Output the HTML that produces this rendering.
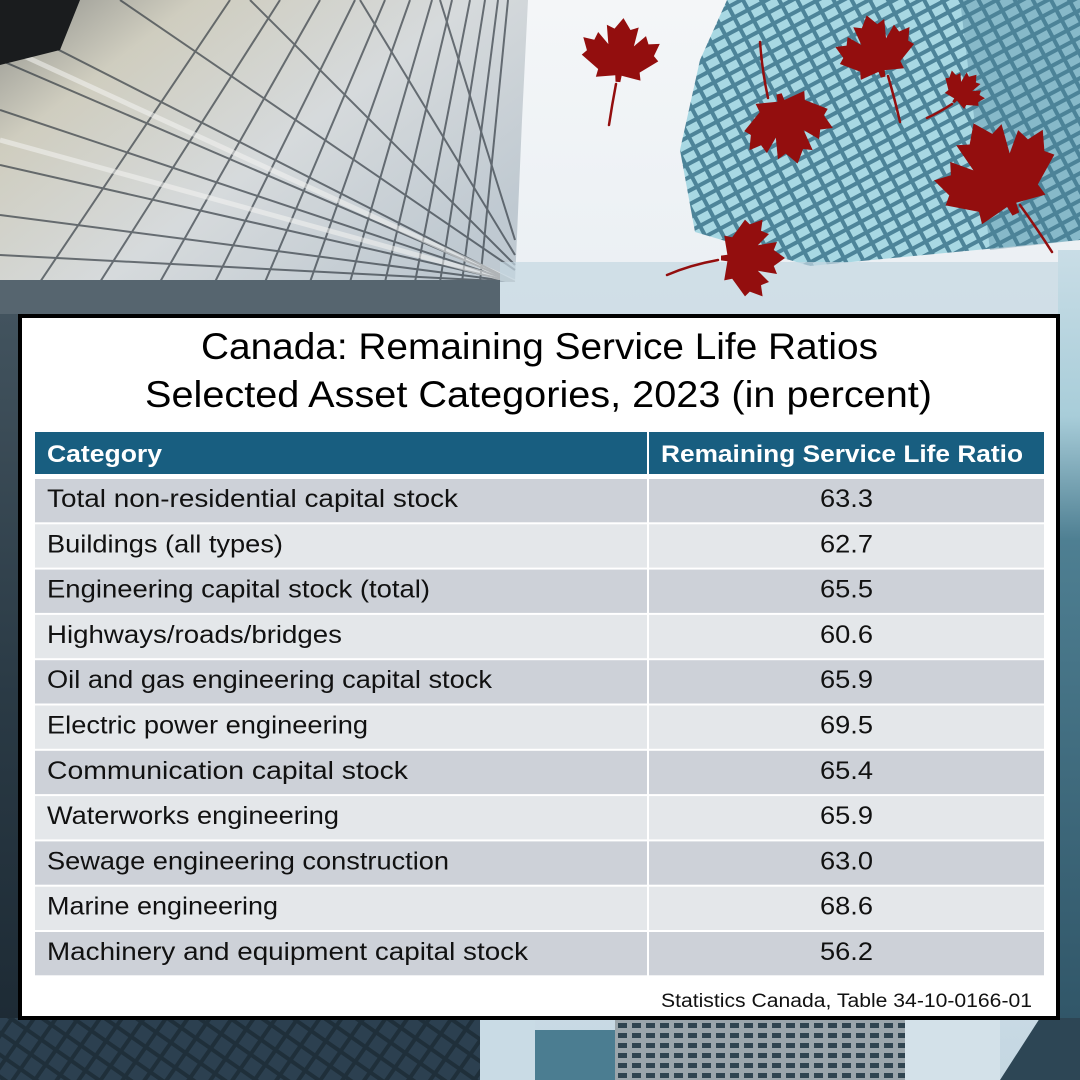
<!DOCTYPE html>
<html>
<head>
<meta charset="utf-8">
<style>
html,body{margin:0;padding:0;background:#fff;}
svg{display:block;}
text{font-family:"Liberation Sans",sans-serif;}
</style>
</head>
<body>
<svg width="1080" height="1080" viewBox="0 0 1080 1080" xmlns="http://www.w3.org/2000/svg">
<defs>
  <linearGradient id="sky" x1="0" y1="0" x2="0" y2="1">
    <stop offset="0" stop-color="#f4f6f8"/>
    <stop offset="0.6" stop-color="#dfe8ee"/>
    <stop offset="1" stop-color="#c4d7e2"/>
  </linearGradient>
  <linearGradient id="lb" x1="0" y1="0" x2="1" y2="0.7">
    <stop offset="0" stop-color="#8e8f8a"/>
    <stop offset="0.25" stop-color="#cfcdbf"/>
    <stop offset="0.6" stop-color="#d6dadc"/>
    <stop offset="1" stop-color="#bfc9d1"/>
  </linearGradient>
  <linearGradient id="lstrip" x1="0" y1="0" x2="0" y2="1">
    <stop offset="0" stop-color="#42535e"/>
    <stop offset="0.5" stop-color="#2a3a45"/>
    <stop offset="1" stop-color="#1b2832"/>
  </linearGradient>
  <linearGradient id="rstrip" x1="0" y1="0" x2="0" y2="1">
    <stop offset="0" stop-color="#c9dde6"/>
    <stop offset="0.2" stop-color="#a8cdd9"/>
    <stop offset="0.35" stop-color="#4e7f92"/>
    <stop offset="1" stop-color="#2d5163"/>
  </linearGradient>
  <pattern id="win" width="16" height="12" patternUnits="userSpaceOnUse" patternTransform="rotate(-28)">
    <rect width="16" height="12" fill="#4d8499"/>
    <rect x="2" y="2" width="12" height="8" fill="#a8d8e3"/>
  </pattern>
  <pattern id="win2" width="14" height="10" patternUnits="userSpaceOnUse">
    <rect width="14" height="10" fill="#9aa5ab"/>
    <rect x="2" y="3" width="9" height="5" fill="#2f4450"/>
  </pattern>
  <pattern id="dgrid" width="18" height="18" patternUnits="userSpaceOnUse" patternTransform="rotate(35)">
    <rect width="18" height="18" fill="#1f2f3a"/>
    <rect x="2" y="2" width="14" height="14" fill="#2c4050"/>
  </pattern>
  <clipPath id="lbclip">
    <polygon points="0,0 528,0 522,120 515,282 0,282"/>
  </clipPath>
  <path id="leaf" d="M0,-50 L10,-36 L20,-40 L16,-16 L30,-30 L34,-20 L48,-22 L42,-6 L48,0 L26,16 L28,26 L4,22 L3,30 L-3,30 L-4,22 L-28,26 L-26,16 L-48,0 L-42,-6 L-48,-22 L-34,-20 L-30,-30 L-16,-16 L-20,-40 L-10,-36 Z"/>
</defs>

<rect width="1080" height="1080" fill="url(#sky)"/>

<polygon points="0,0 528,0 522,120 515,282 0,282" fill="url(#lb)"/>
<g clip-path="url(#lbclip)" stroke="#2b333b" stroke-width="2" opacity="0.65" fill="none">
  <line x1="0" y1="20" x2="515" y2="282"/>
  <line x1="0" y1="60" x2="515" y2="282"/>
  <line x1="0" y1="110" x2="515" y2="282"/>
  <line x1="0" y1="165" x2="515" y2="282"/>
  <line x1="0" y1="215" x2="515" y2="282"/>
  <line x1="0" y1="255" x2="515" y2="282"/>
  <line x1="120" y1="0" x2="515" y2="270"/>
  <line x1="250" y1="0" x2="515" y2="265"/>
  <line x1="360" y1="0" x2="515" y2="255"/>
  <line x1="440" y1="0" x2="515" y2="240"/>
  <line x1="40" y1="282" x2="230" y2="0"/>
  <line x1="100" y1="282" x2="280" y2="0"/>
  <line x1="160" y1="282" x2="320" y2="0"/>
  <line x1="215" y1="282" x2="355" y2="0"/>
  <line x1="265" y1="282" x2="385" y2="0"/>
  <line x1="310" y1="282" x2="410" y2="0"/>
  <line x1="350" y1="282" x2="432" y2="0"/>
  <line x1="385" y1="282" x2="452" y2="0"/>
  <line x1="415" y1="282" x2="470" y2="0"/>
  <line x1="440" y1="282" x2="485" y2="0"/>
  <line x1="462" y1="282" x2="498" y2="0"/>
  <line x1="480" y1="282" x2="508" y2="0"/>
</g>
<g clip-path="url(#lbclip)" stroke="#f4f4f2" stroke-width="5" opacity="0.55" fill="none">
  <line x1="0" y1="140" x2="515" y2="282"/>
  <line x1="0" y1="45" x2="515" y2="282"/>
</g>
<polygon points="0,0 80,0 60,50 0,65" fill="#1a1c1e"/>
<rect x="0" y="280" width="500" height="36" fill="#56656f"/>

<polygon points="727,0 1080,0 1080,240 810,266 695,232 680,150 700,60" fill="url(#win)"/>
<polygon points="960,0 1080,0 1080,240 990,250" fill="#4a8297" opacity="0.35"/>

<rect x="500" y="262" width="580" height="54" fill="#c5d7e1" opacity="0.7"/>

<rect x="0" y="314" width="20" height="766" fill="url(#lstrip)"/>
<rect x="1058" y="250" width="22" height="830" fill="url(#rstrip)"/>

<rect x="0" y="1018" width="480" height="62" fill="url(#dgrid)"/>
<rect x="480" y="1018" width="55" height="62" fill="#c9dbe5"/>
<rect x="535" y="1030" width="80" height="50" fill="#4b7d91"/>
<rect x="615" y="1018" width="290" height="62" fill="url(#win2)"/>
<rect x="905" y="1018" width="95" height="62" fill="#d3e1e9"/>
<polygon points="1000,1080 1040,1018 1080,1018 1080,1080" fill="#2d4655"/>

<g fill="#930e0e">
  <use href="#leaf" transform="translate(620,58) rotate(5) scale(0.8)"/>
  <use href="#leaf" transform="translate(786,120) rotate(165) scale(0.9)"/>
  <use href="#leaf" transform="translate(877,54) rotate(-15) scale(0.8)"/>
  <use href="#leaf" transform="translate(962,92) rotate(40) scale(0.45)"/>
  <use href="#leaf" transform="translate(1000,180) rotate(-25) scale(1.25)"/>
  <use href="#leaf" transform="translate(745,258) rotate(90) scale(0.8)"/>
</g>
<g stroke="#930e0e" stroke-width="2.5" fill="none" stroke-linecap="round">
  <path d="M616,84 Q612,105 609,125"/>
  <path d="M768,98 Q762,70 760,42"/>
  <path d="M888,76 Q895,100 900,122"/>
  <path d="M952,104 Q940,112 927,118"/>
  <path d="M1020,205 Q1038,230 1052,252"/>
  <path d="M718,260 Q690,265 667,275"/>
</g>

<rect x="20" y="316" width="1038" height="702" fill="#ffffff" stroke="#000000" stroke-width="4"/>

<text x="201" y="359" font-size="37" fill="#000" textLength="677" lengthAdjust="spacingAndGlyphs">Canada: Remaining Service Life Ratios</text>
<text x="145" y="407" font-size="37" fill="#000" textLength="787" lengthAdjust="spacingAndGlyphs">Selected Asset Categories, 2023 (in percent)</text>

<rect x="35" y="432" width="612" height="42" fill="#185e80"/>
<rect x="649" y="432" width="395" height="42" fill="#185e80"/>
<text x="47" y="462" font-size="24" font-weight="bold" fill="#ffffff" textLength="115" lengthAdjust="spacingAndGlyphs">Category</text>
<text x="661" y="462" font-size="24" font-weight="bold" fill="#ffffff" textLength="362" lengthAdjust="spacingAndGlyphs">Remaining Service Life Ratio</text>

<g>
  <rect x="35" y="479" width="612" height="43.3" fill="#cdd1d8"/><rect x="649" y="479" width="395" height="43.3" fill="#cdd1d8"/>
  <rect x="35" y="524.3" width="612" height="43.3" fill="#e4e7ea"/><rect x="649" y="524.3" width="395" height="43.3" fill="#e4e7ea"/>
  <rect x="35" y="569.6" width="612" height="43.3" fill="#cdd1d8"/><rect x="649" y="569.6" width="395" height="43.3" fill="#cdd1d8"/>
  <rect x="35" y="614.9" width="612" height="43.3" fill="#e4e7ea"/><rect x="649" y="614.9" width="395" height="43.3" fill="#e4e7ea"/>
  <rect x="35" y="660.2" width="612" height="43.3" fill="#cdd1d8"/><rect x="649" y="660.2" width="395" height="43.3" fill="#cdd1d8"/>
  <rect x="35" y="705.5" width="612" height="43.3" fill="#e4e7ea"/><rect x="649" y="705.5" width="395" height="43.3" fill="#e4e7ea"/>
  <rect x="35" y="750.8" width="612" height="43.3" fill="#cdd1d8"/><rect x="649" y="750.8" width="395" height="43.3" fill="#cdd1d8"/>
  <rect x="35" y="796.1" width="612" height="43.3" fill="#e4e7ea"/><rect x="649" y="796.1" width="395" height="43.3" fill="#e4e7ea"/>
  <rect x="35" y="841.4" width="612" height="43.3" fill="#cdd1d8"/><rect x="649" y="841.4" width="395" height="43.3" fill="#cdd1d8"/>
  <rect x="35" y="886.7" width="612" height="43.3" fill="#e4e7ea"/><rect x="649" y="886.7" width="395" height="43.3" fill="#e4e7ea"/>
  <rect x="35" y="932" width="612" height="43.3" fill="#cdd1d8"/><rect x="649" y="932" width="395" height="43.3" fill="#cdd1d8"/>
</g>

<g font-size="25" fill="#111">
  <text x="47" y="507" textLength="411" lengthAdjust="spacingAndGlyphs">Total non-residential capital stock</text>
  <text x="47" y="552.3" textLength="236" lengthAdjust="spacingAndGlyphs">Buildings (all types)</text>
  <text x="47" y="597.6" textLength="383" lengthAdjust="spacingAndGlyphs">Engineering capital stock (total)</text>
  <text x="47" y="642.9" textLength="295" lengthAdjust="spacingAndGlyphs">Highways/roads/bridges</text>
  <text x="47" y="688.2" textLength="445" lengthAdjust="spacingAndGlyphs">Oil and gas engineering capital stock</text>
  <text x="47" y="733.5" textLength="321" lengthAdjust="spacingAndGlyphs">Electric power engineering</text>
  <text x="47" y="778.8" textLength="361" lengthAdjust="spacingAndGlyphs">Communication capital stock</text>
  <text x="47" y="824.1" textLength="292" lengthAdjust="spacingAndGlyphs">Waterworks engineering</text>
  <text x="47" y="869.4" textLength="402" lengthAdjust="spacingAndGlyphs">Sewage engineering construction</text>
  <text x="47" y="914.7" textLength="231" lengthAdjust="spacingAndGlyphs">Marine engineering</text>
  <text x="47" y="960" textLength="481" lengthAdjust="spacingAndGlyphs">Machinery and equipment capital stock</text>
</g>
<g font-size="25" fill="#111">
  <text x="820" y="507" textLength="53" lengthAdjust="spacingAndGlyphs">63.3</text>
  <text x="820" y="552.3" textLength="53" lengthAdjust="spacingAndGlyphs">62.7</text>
  <text x="820" y="597.6" textLength="53" lengthAdjust="spacingAndGlyphs">65.5</text>
  <text x="820" y="642.9" textLength="53" lengthAdjust="spacingAndGlyphs">60.6</text>
  <text x="820" y="688.2" textLength="53" lengthAdjust="spacingAndGlyphs">65.9</text>
  <text x="820" y="733.5" textLength="53" lengthAdjust="spacingAndGlyphs">69.5</text>
  <text x="820" y="778.8" textLength="53" lengthAdjust="spacingAndGlyphs">65.4</text>
  <text x="820" y="824.1" textLength="53" lengthAdjust="spacingAndGlyphs">65.9</text>
  <text x="820" y="869.4" textLength="53" lengthAdjust="spacingAndGlyphs">63.0</text>
  <text x="820" y="914.7" textLength="53" lengthAdjust="spacingAndGlyphs">68.6</text>
  <text x="820" y="960" textLength="53" lengthAdjust="spacingAndGlyphs">56.2</text>
</g>

<text x="661" y="1007" font-size="19" fill="#111" textLength="371" lengthAdjust="spacingAndGlyphs">Statistics Canada, Table 34-10-0166-01</text>
</svg>
</body>
</html>
